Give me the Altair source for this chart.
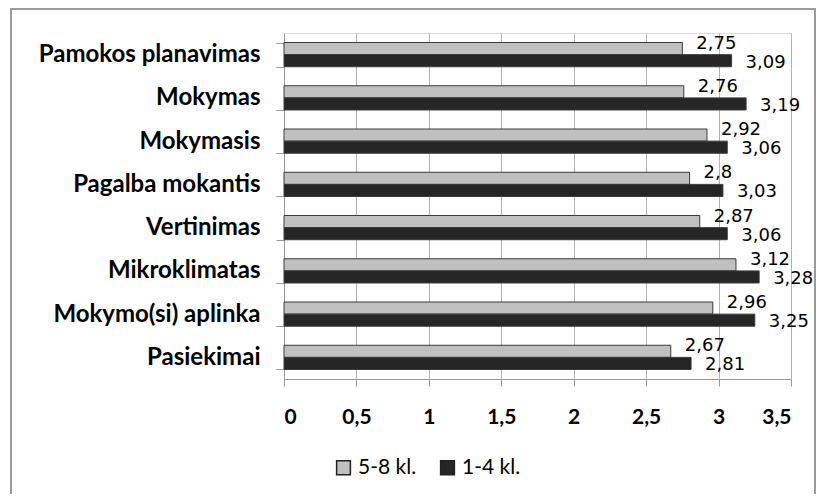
import altair as alt
import pandas as pd

categories = ["Pamokos planavimas", "Mokymas", "Mokymasis", "Pagalba mokantis",
              "Vertinimas", "Mikroklimatas", "Mokymo(si) aplinka", "Pasiekimai"]
series = ["5-8 kl.", "1-4 kl."]
v58 = [2.75, 2.76, 2.92, 2.8, 2.87, 3.12, 2.96, 2.67]
v14 = [3.09, 3.19, 3.06, 3.03, 3.06, 3.28, 3.25, 2.81]
x_ticks = [0, 0.5, 1, 1.5, 2, 2.5, 3, 3.5]
colors = ["#c0c0c0", "#262626"]

rows = []
for c, a, b in zip(categories, v58, v14):
    rows.append(dict(cat=c, series=series[0], value=a, label=str(a).replace(".", ",")))
    rows.append(dict(cat=c, series=series[1], value=b, label=str(b).replace(".", ",")))
df = pd.DataFrame(rows)

y_enc = alt.Y("cat:N", sort=categories, title=None,
              scale=alt.Scale(paddingInner=0.44, paddingOuter=0.22),
              axis=alt.Axis(labelFont="Lato", labelFontWeight="bold", labelFontSize=24,
                            labelColor="#000", domainColor="#999", tickColor="#999",
                            tickSize=8, labelPadding=16, tickBand="extent", grid=False,
                            labelLimit=400))
yoff = alt.YOffset("series:N", sort=series, scale=alt.Scale(paddingInner=0, paddingOuter=0))
x_enc = alt.X("value:Q", title=None,
              scale=alt.Scale(domain=[0, 3.5], nice=False),
              axis=alt.Axis(values=x_ticks,
                            labelExpr="replace(format(datum.value, '~g'), '.', ',')",
                            labelFont="Lato", labelFontWeight="bold", labelFontSize=21,
                            labelColor="#000", labelPadding=20, tickSize=7,
                            gridColor="#b3b3b3", domainColor="#999", tickColor="#999"))

frame = alt.Chart(pd.DataFrame({"a": [0]})).mark_rect(
    fillOpacity=0, stroke="#9a9a9a", strokeWidth=2
).encode(x=alt.value(-273), x2=alt.value(531), y=alt.value(-24), y2=alt.value(462))

bars = alt.Chart(df).mark_bar(stroke="#3a3a3a", strokeWidth=1).encode(
    x=x_enc, y=y_enc, yOffset=yoff,
    color=alt.Color("series:N", sort=series, title=None,
                    scale=alt.Scale(domain=series, range=colors),
                    legend=alt.Legend(orient="none", legendX=49, legendY=424,
                                      direction="horizontal", symbolType="square",
                                      symbolSize=190, symbolStrokeColor="#222",
                                      symbolStrokeWidth=1.5, labelFont="Lato",
                                      labelFontSize=21, labelColor="#000",
                                      columnPadding=20, symbolOffset=0, labelOffset=4)),
)

t1 = alt.Chart(df).transform_filter(alt.datum.series == series[0]).mark_text(
    align="left", baseline="middle", dx=14, dy=-5, font="DejaVu Sans", fontSize=18, color="#000"
).encode(x="value:Q", y=alt.Y("cat:N", sort=categories), yOffset=yoff, text="label:N")
t2 = alt.Chart(df).transform_filter(alt.datum.series == series[1]).mark_text(
    align="left", baseline="middle", dx=14, dy=2, font="DejaVu Sans", fontSize=18, color="#000"
).encode(x="value:Q", y=alt.Y("cat:N", sort=categories), yOffset=yoff, text="label:N")

chart = alt.layer(frame, bars, t1, t2).properties(
    width=507, height=346,
    autosize=alt.AutoSizeParams(type="none"),
    padding={"left": 276, "top": 25, "right": 25, "bottom": 115},
).configure_view(stroke=None).configure(background="white")

chart.save("out.html", embed_options={"renderer": "svg", "actions": False})
